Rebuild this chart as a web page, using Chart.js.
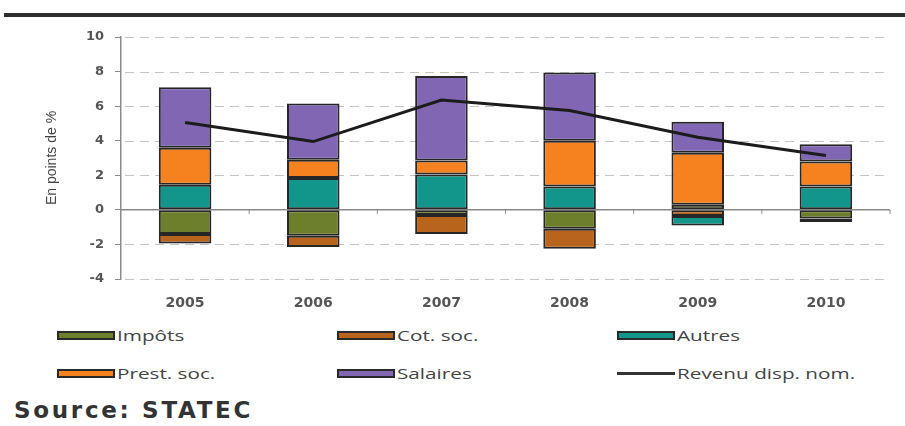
<!DOCTYPE html>
<html>
<head>
<meta charset="utf-8">
<script src="https://cdn.jsdelivr.net/npm/chart.js@4.4.0/dist/chart.umd.min.js"></script>
<style>
  body { margin: 0; background: #fff; width: 905px; height: 426px; overflow: hidden; position: relative; font-family: 'Open Sans', sans-serif; }
  .topline { position: absolute; left: 4px; right: 0; top: 13px; height: 4px; background: #2e2e2e; }
  .box { position: absolute; left: 0; top: 0; width: 905px; height: 320px; }
  .legend-item { position: absolute; height: 20px; display: flex; align-items: center; }
  .legend-item .sw { width: 54px; height: 5px; border: 2px solid #2a2a2a; }
  .legend-item .ln { width: 58px; height: 3px; background: #333; }
  .legend-item .lbl { display: inline-block; font-size: 15px; color: #444; transform: scaleX(1.38); transform-origin: left center; margin-left: 2px; white-space: nowrap; }
  .source { position: absolute; left: 14px; top: 397px; font-family: 'DejaVu Sans', sans-serif; font-weight: bold; font-size: 23px; letter-spacing: 2.7px; color: #333; }
</style>
</head>
<body>
<div class="topline"></div>
<div class="box"><canvas id="myChart"></canvas></div>
<div id="legend"></div>
<div class="source">Source: STATEC</div>

<script>
(function () {
  'use strict';

  // data (points de %)
  var years = ['2005', '2006', '2007', '2008', '2009', '2010'];
  var impots = [-1.4, -1.5, -0.3, -1.1, 0.3, -0.5];
  var cotSoc = [-0.55, -0.65, -1.1, -1.15, -0.35, -0.2];
  var autres = [1.45, 1.85, 2.05, 1.35, -0.55, 1.35];
  var prestSoc = [2.15, 1.05, 0.8, 2.65, 3.0, 1.45];
  var salaires = [3.5, 3.25, 4.9, 3.95, 1.8, 1.0];
  var revenu = [5.05, 3.95, 6.35, 5.75, 4.2, 3.15];
  var yMin = -4, yMax = 10, yStep = 2;

  var barBorder = '#262626';

  function barSet(label, color, data) {
    return {
      type: 'bar',
      label: label,
      data: data,
      backgroundColor: color,
      borderColor: barBorder,
      borderWidth: 2,
      borderSkipped: false,
      barPercentage: 0.41,
      categoryPercentage: 1,
      stack: 'contrib',
      order: 1
    };
  }

  // dashed grid, solid zero line with little ticks between categories
  var gridLines = {
    id: 'gridLines',
    beforeDatasetsDraw: function (chart) {
      var c = chart.ctx, x = chart.scales.x, y = chart.scales.y;
      var area = chart.chartArea;
      c.save();
      c.strokeStyle = '#c4c4c4';
      c.lineWidth = 1;
      c.setLineDash([9, 6]);
      y.ticks.forEach(function (t) {
        if (t.value === 0) return;
        var py = Math.round(y.getPixelForValue(t.value)) + 0.5;
        c.beginPath();
        c.moveTo(area.left + 4, py);
        c.lineTo(area.right, py);
        c.stroke();
      });
      c.setLineDash([]);

      var y0 = y.getPixelForValue(0);
      c.strokeStyle = '#8a8a8a';
      c.lineWidth = 1.5;
      c.beginPath();
      c.moveTo(area.left, y0);
      c.lineTo(area.right, y0);
      c.stroke();
      c.lineWidth = 1;
      var half = (x.getPixelForValue(1) - x.getPixelForValue(0)) / 2;
      for (var i = 0; i < years.length; i++) {
        var bx = x.getPixelForValue(i) + half;
        c.beginPath();
        c.moveTo(bx, y0);
        c.lineTo(bx, y0 + 4);
        c.stroke();
      }
      c.restore();
    }
  };

  var ctx = document.getElementById('myChart').getContext('2d');
  var chart = new Chart(ctx, {
    data: {
      labels: years,
      datasets: [
        barSet('Impôts', '#6e7f2c', impots),
        barSet('Cot. soc.', '#b8641c', cotSoc),
        barSet('Autres', '#12958a', autres),
        barSet('Prest. soc.', '#f5821f', prestSoc),
        barSet('Salaires', '#8066b3', salaires),
        {
          type: 'line',
          label: 'Revenu disp. nom.',
          data: revenu,
          borderColor: '#1c1c1c',
          borderWidth: 3,
          pointRadius: 0,
          tension: 0,
          fill: false,
          stack: 'revenu',
          order: 0
        }
      ]
    },
    options: {
      responsive: true,
      maintainAspectRatio: false,
      animation: false,
      layout: { padding: { top: 37, right: 15, bottom: 0, left: 0 } },
      plugins: {
        legend: { display: false },
        tooltip: { enabled: false }
      },
      scales: {
        x: {
          stacked: true,
          grid: { display: false, drawTicks: false },
          border: { display: false },
          ticks: {
            padding: 16,
            color: '#555',
            font: { family: 'DejaVu Sans', weight: 'bold', size: 14 }
          },
          afterFit: function (scale) { scale.height = 41; }
        },
        y: {
          stacked: true,
          min: yMin,
          max: yMax,
          ticks: {
            stepSize: yStep,
            padding: 11,
            color: '#555',
            font: { family: 'DejaVu Sans', weight: 'bold', size: 13 }
          },
          grid: {
            drawOnChartArea: false,
            color: '#8a8a8a',
            tickColor: '#8a8a8a',
            tickLength: 6,
            lineWidth: 1
          },
          border: { display: true, color: '#8a8a8a', width: 1.5 },
          title: {
            display: true,
            text: 'En points de %',
            color: '#444',
            padding: { top: 44, bottom: 0 },
            font: { family: 'Liberation Sans', size: 14 }
          },
          afterFit: function (scale) { scale.width = 121; }
        }
      }
    },
    plugins: [gridLines]
  });

  // legend in three columns, like the original
  var legendPos = [
    { left: 57, top: 325 }, { left: 337, top: 325 }, { left: 617, top: 325 },
    { left: 57, top: 363 }, { left: 337, top: 363 }, { left: 617, top: 363 }
  ];
  var holder = document.getElementById('legend');
  chart.data.datasets.forEach(function (ds, k) {
    var item = document.createElement('div');
    item.className = 'legend-item';
    item.style.left = legendPos[k].left + 'px';
    item.style.top = legendPos[k].top + 'px';
    var sw = document.createElement('span');
    if (ds.type === 'line') {
      sw.className = 'ln';
    } else {
      sw.className = 'sw';
      sw.style.background = ds.backgroundColor;
    }
    var lbl = document.createElement('span');
    lbl.className = 'lbl';
    lbl.textContent = ds.label;
    item.appendChild(sw);
    item.appendChild(lbl);
    holder.appendChild(item);
  });
})();
</script>
</body>
</html>
